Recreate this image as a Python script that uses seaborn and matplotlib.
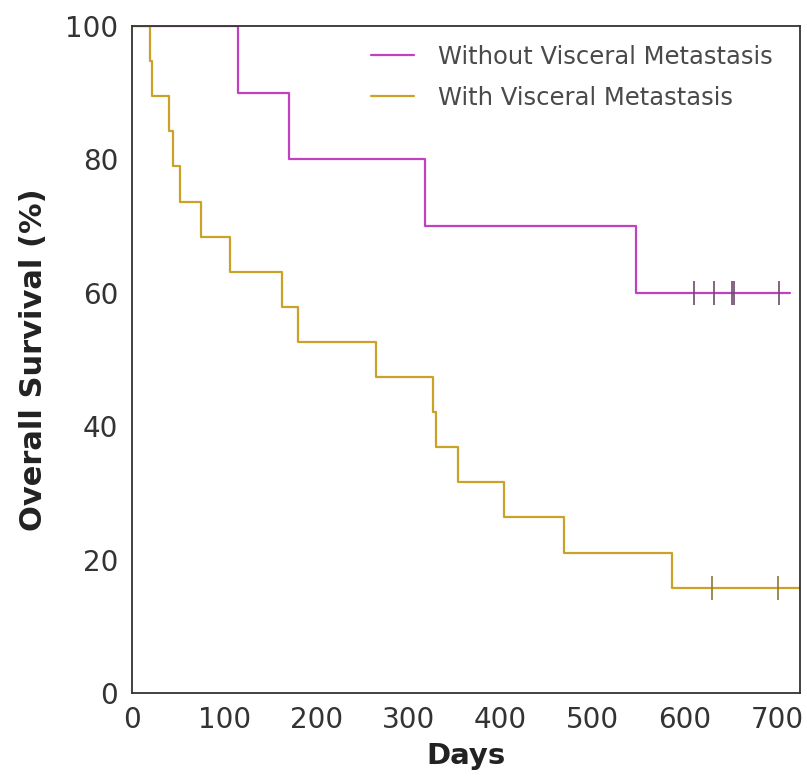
import numpy as np
import pandas as pd
import matplotlib
matplotlib.use("Agg")
import matplotlib.pyplot as plt
import seaborn as sns

# Kaplan-Meier step data (days, survival %)
groups = ["Without Visceral Metastasis", "With Visceral Metastasis"]

no_visc_days = [0, 115, 170, 318, 547, 714]
no_visc_surv = [100, 90, 80, 70, 60, 60]
no_visc_censor_days = [610, 632, 651, 653, 702]
no_visc_censor_surv = [60, 60, 60, 60, 60]

visc_days = [0, 19.5, 21.5, 40, 44.5, 52, 75, 106, 163, 180, 265, 327, 330, 354, 404, 469, 586, 725]
visc_surv = [100, 94.74, 89.47, 84.21, 78.95, 73.68, 68.42, 63.16, 57.89, 52.63,
             47.37, 42.11, 36.84, 31.58, 26.32, 21.05, 15.79, 15.79]
visc_censor_days = [629, 701]
visc_censor_surv = [15.79, 15.79]

colors = {"Without Visceral Metastasis": "#C040C0", "With Visceral Metastasis": "#C9A227"}
censor_colors = {"Without Visceral Metastasis": "#6E4A6E", "With Visceral Metastasis": "#8A7A30"}

x_ticks = [0, 100, 200, 300, 400, 500, 600, 700]
y_ticks = [0, 20, 40, 60, 80, 100]

curves = pd.concat([
    pd.DataFrame({"Days": no_visc_days, "Survival": no_visc_surv, "Group": groups[0]}),
    pd.DataFrame({"Days": visc_days, "Survival": visc_surv, "Group": groups[1]}),
], ignore_index=True)
censors = pd.concat([
    pd.DataFrame({"Days": no_visc_censor_days, "Survival": no_visc_censor_surv, "Group": groups[0]}),
    pd.DataFrame({"Days": visc_censor_days, "Survival": visc_censor_surv, "Group": groups[1]}),
], ignore_index=True)

sns.set_style("white")
plt.rcParams['font.family'] = ['DejaVu Sans']

fig = plt.figure(figsize=(8.07, 7.8), dpi=100)
ax = fig.add_axes([0.1636, 0.1115, 0.9913 - 0.1636, 0.9667 - 0.1115])

for g in groups:
    sub = curves[curves["Group"] == g]
    sns.lineplot(data=sub, x="Days", y="Survival", ax=ax, color=colors[g],
                 drawstyle="steps-post", linewidth=1.6, label=g, estimator=None, sort=False)
    csub = censors[censors["Group"] == g]
    ax.scatter(csub["Days"], csub["Survival"], marker="|", s=300, linewidths=1.2,
               color=censor_colors[g], zorder=3)

ax.set_xlim(0, 725)
ax.set_ylim(0, 100)
ax.set_xticks(x_ticks)
ax.set_yticks(y_ticks)
ax.tick_params(axis="x", labelsize=20, length=0, pad=9)
ax.tick_params(axis="y", labelsize=20, length=0, pad=10)
for lab in ax.get_xticklabels() + ax.get_yticklabels():
    lab.set_color("#333333")
ax.set_xlabel("Days", fontsize=21, fontweight="bold", color="#222222", labelpad=6)
ax.set_ylabel("Overall Survival (%)", fontsize=22, fontweight="bold", color="#222222", labelpad=12)
for s in ax.spines.values():
    s.set_color("#333333")
    s.set_linewidth(1.3)

leg = ax.legend(loc="upper right", frameon=False, fontsize=17.5, handlelength=1.75,
                handletextpad=1.0, labelspacing=0.68, borderaxespad=0.3,
                bbox_to_anchor=(0.985, 0.997))
for t in leg.get_texts():
    t.set_color("#4a4a4a")

fig.savefig("out.png", dpi=100)
